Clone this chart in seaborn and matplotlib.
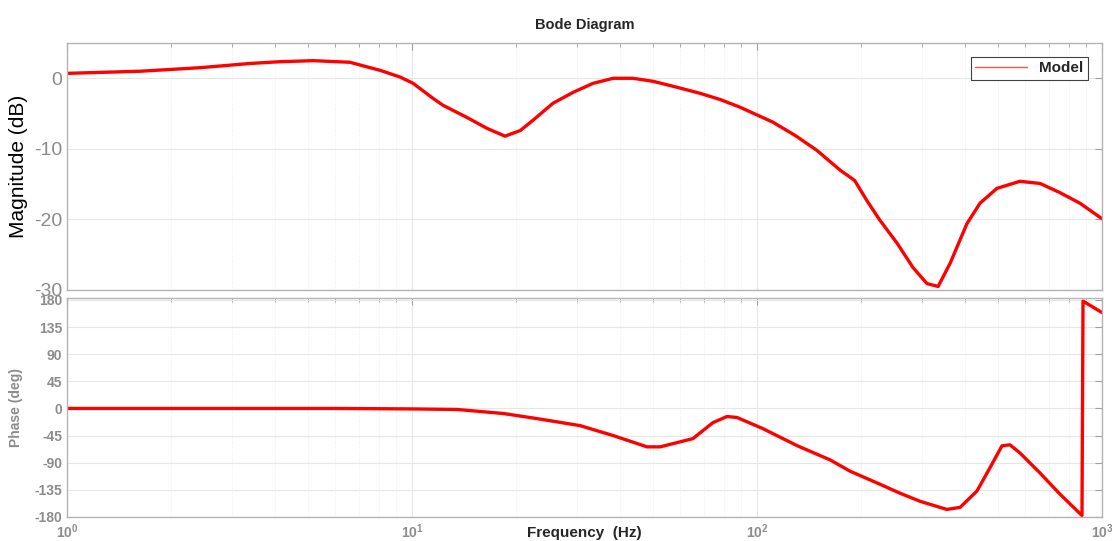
import numpy as np
import pandas as pd
import matplotlib.pyplot as plt
import seaborn as sns
from matplotlib.ticker import LogLocator, FixedLocator, NullFormatter

# magnitude response
mag_freq = [1.0, 1.63, 2.43, 3.39, 4.1, 5.17, 6.61, 7.3, 8.08, 9.23, 10.07, 11.5,
            12.3, 14.4, 16.5, 18.6, 20.6, 22.4, 25.6, 29.3, 33.5, 38.3, 43.7,
            50.0, 58.7, 68.4, 78.1, 89.3, 111, 129, 149, 174, 192, 208, 227,
            255, 283, 311, 335, 363, 406, 443, 496, 578, 661, 755, 863, 1000]
mag_db = [0.7, 1.0, 1.5, 2.1, 2.34, 2.5, 2.27, 1.7, 1.13, 0.18, -0.71, -2.84,
          -3.83, -5.53, -7.1, -8.2, -7.4, -5.96, -3.55, -1.99, -0.71, 0.0, 0.0,
          -0.43, -1.28, -2.13, -3.0, -4.1, -6.2, -8.1, -10.2, -13.0, -14.5, -17.3, -20.1,
          -23.4, -26.8, -29.1, -29.5, -26.2, -20.6, -17.7, -15.6, -14.6, -14.9, -16.2, -17.7, -19.9]

# phase response (wraps from -180 to +180 near 880 Hz)
ph_freq = [1.0, 3.0, 6.0, 10.0, 13.5, 18.4, 23.0, 30.7, 38.3, 48.0, 52.4, 65.2,
           74.5, 81.8, 87.5, 104, 131, 163, 186, 227, 260, 297, 355, 388, 434,
           473, 513, 541, 578, 661, 755, 875, 881, 1000]
ph_deg = [0.0, 0.0, 0.0, -0.8, -1.7, -8.4, -16.8, -28.5, -45, -63.7, -63.7, -50,
          -23.5, -13.4, -15, -33.5, -62, -85.4, -104, -125.6, -140.7, -154, -167.5, -164, -137,
          -98.8, -62, -60.3, -73.7, -107, -142, -177.6, 178, 159]

mag = pd.DataFrame({"f": mag_freq, "v": mag_db, "s": "Model"})
ph = pd.DataFrame({"f": ph_freq, "v": ph_deg, "s": "Model"})

sns.set_style("white")
plt.rcParams['font.family'] = ['Liberation Sans', 'DejaVu Sans']
plt.rcParams['axes.unicode_minus'] = False

fig = plt.figure(figsize=(11.12, 5.41), dpi=100)
ax1 = fig.add_axes([0.0603, 0.464, 0.9307, 0.4565])
ax2 = fig.add_axes([0.0603, 0.0444, 0.9307, 0.4046])

sns.lineplot(data=mag, x="f", y="v", ax=ax1, color="#ff0000", linewidth=2.4,
             sort=False, estimator=None, legend=False)
sns.lineplot(data=ph, x="f", y="v", ax=ax2, color="#ff0000", linewidth=2.4,
             sort=False, estimator=None, legend=False)

grey = "#8c8c8c"
for ax in (ax1, ax2):
    ax.set_xscale("log")
    ax.set_xlim(1, 1000)
    ax.xaxis.set_major_locator(LogLocator(base=10, numticks=10))
    ax.xaxis.set_minor_locator(LogLocator(base=10, subs=np.arange(2, 10), numticks=20))
    ax.xaxis.set_minor_formatter(NullFormatter())
    ax.grid(True, which="major", color="#e6e6e6", linewidth=0.8)
    ax.grid(True, which="minor", axis="x", color="#ececec", linewidth=0.7, linestyle=":")
    ax.tick_params(which="both", direction="in", top=True, right=True,
                   colors="#a0a0a0", labelcolor=grey)
    ax.tick_params(which="major", length=5)
    ax.tick_params(which="minor", length=3)
    for sp in ax.spines.values():
        sp.set_color("#b4b4b4")
        sp.set_linewidth(1.0)
    ax.set_xlabel("")

ax1.set_ylim(-30, 5)
ax1.yaxis.set_major_locator(FixedLocator([-30, -20, -10, 0]))
ax1.tick_params(axis="y", labelsize=14)
ax1.tick_params(axis="x", labelbottom=False)
ax1.set_ylabel("Magnitude (dB)", fontsize=15, color="black", labelpad=4)
ax1.set_title("Bode Diagram", fontsize=10.5, fontweight="bold", pad=10)

ax1.plot([], [], color="#ff5050", linewidth=1.0, label="Model")
leg = ax1.legend(loc="upper right", prop={"weight": "bold", "size": 11},
                 fancybox=False, edgecolor="#404040", framealpha=1,
                 handlelength=3.4, borderpad=0.3, borderaxespad=0.9)
leg.get_frame().set_linewidth(0.8)

ax2.set_ylim(-180, 183)
ax2.yaxis.set_major_locator(FixedLocator(np.arange(-180, 181, 45)))
ax2.tick_params(axis="y", labelsize=10)
ax2.tick_params(axis="x", labelsize=10, pad=4)
for lab in ax2.get_yticklabels() + ax2.get_xticklabels():
    lab.set_fontweight("bold")
ax2.set_ylabel("Phase (deg)", fontsize=10, fontweight="bold", color=grey, labelpad=8)
ax2.set_xlabel("Frequency  (Hz)", fontsize=11, fontweight="bold")
ax2.xaxis.label.set_va("center")
ax2.xaxis.set_label_coords(0.5, -0.075)

fig.savefig("out.png", dpi=100)
